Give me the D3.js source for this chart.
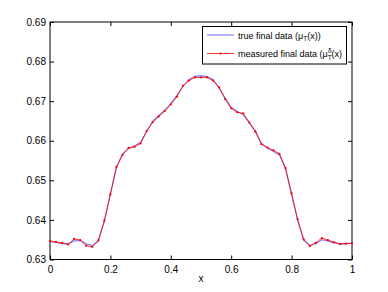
<!DOCTYPE html>
<html><head><meta charset="utf-8">
<script src="https://cdn.jsdelivr.net/npm/d3@7"></script>
<style>body{margin:0;background:#fff}svg{display:block}text{font-family:"Liberation Sans",Arial,sans-serif;fill:#000}</style>
</head><body><svg id="c" width="388" height="292"></svg>
<script>
const xs = d3.range(51).map(i => i / 50);
const measured = [0.6347,0.6344,0.6342,0.6338,0.6352,0.6349,0.6335,0.6332,0.6349,0.6398,
  0.6465,0.6534,0.6564,0.6582,0.6585,0.6593,0.6625,0.6647,0.6661,0.6675,
  0.6692,0.6711,0.6739,0.6752,0.6760,0.6760,0.6760,0.6752,0.6735,0.6705,
  0.6682,0.6672,0.6669,0.6646,0.6623,0.6591,0.6583,0.6576,0.6567,0.6531,
  0.6467,0.6402,0.6351,0.6334,0.6342,0.6354,0.6349,0.6344,0.6339,0.6340,0.6341];
const trueVals = [0.6345,0.6343,0.6340,0.6339,0.6347,0.6348,0.6340,0.6335,0.6346,0.6397,
  0.6466,0.6532,0.6567,0.6580,0.6587,0.6596,0.6623,0.6649,0.6664,0.6677,
  0.6694,0.6714,0.6737,0.6755,0.6763,0.6764,0.6762,0.6754,0.6733,0.6708,
  0.6685,0.6674,0.6666,0.6645,0.6625,0.6594,0.6581,0.6573,0.6564,0.6528,
  0.6463,0.6398,0.6348,0.6336,0.6340,0.6350,0.6347,0.6342,0.6340,0.6340,0.6341];
const xTicks = [0, 0.2, 0.4, 0.6, 0.8, 1];
const yTicks = [0.63, 0.64, 0.65, 0.66, 0.67, 0.68, 0.69];

const L = 50, R = 352, T = 22, B = 259.5;
const svg = d3.select("#c");
const x = d3.scaleLinear().domain([0, 1]).range([L, R]);
const y = d3.scaleLinear().domain([0.63, 0.69]).range([B, T]);

svg.append("rect").attr("x", L).attr("y", T).attr("width", R - L).attr("height", B - T)
  .attr("fill", "none").attr("stroke", "#000").attr("stroke-width", 1);

const fmtX = d => String(d);
const gx = svg.append("g").attr("transform", `translate(0,${B})`)
  .call(d3.axisBottom(x).tickValues(xTicks).tickFormat(fmtX).tickSizeInner(-4).tickSizeOuter(0).tickPadding(6));
const gy = svg.append("g").attr("transform", `translate(${L},0)`)
  .call(d3.axisLeft(y).tickValues(yTicks).tickFormat(d3.format(".2f")).tickSizeInner(-4).tickSizeOuter(0).tickPadding(4));
const gxt = svg.append("g").attr("transform", `translate(0,${T})`)
  .call(d3.axisTop(x).tickValues(xTicks).tickFormat("").tickSizeInner(-4).tickSizeOuter(0));
const gyr = svg.append("g").attr("transform", `translate(${R},0)`)
  .call(d3.axisRight(y).tickValues(yTicks).tickFormat("").tickSizeInner(-4).tickSizeOuter(0));
[gx, gy, gxt, gyr].forEach(g => {
  g.select(".domain").remove();
  g.selectAll("text").attr("font-size", 10).attr("fill", "#000").style("font-family", '"Liberation Sans",Arial,sans-serif');
  g.selectAll("line").attr("stroke", "#000");
});

svg.append("text").attr("x", x(0.5)).attr("y", 282).attr("text-anchor", "middle")
  .attr("font-size", 10).text("x");

const line = d3.line().curve(d3.curveLinear).x((d, i) => x(xs[i])).y(d => y(d));
svg.append("path").datum(trueVals).attr("d", line).attr("fill", "none")
  .attr("stroke", "#4d4dff").attr("stroke-width", 1.1).attr("stroke-opacity", 0.75);
svg.append("path").datum(measured).attr("d", line).attr("fill", "none")
  .attr("stroke", "#ff0000").attr("stroke-width", 0.8);
svg.selectAll("circle.m").data(measured).enter().append("circle").attr("class", "m")
  .attr("cx", (d, i) => x(xs[i])).attr("cy", d => y(d)).attr("r", 1.1).attr("fill", "#ff0000");

// legend
const lg = svg.append("g");
lg.append("rect").attr("x", 202.5).attr("y", 26.5).attr("width", 144).attr("height", 37.5)
  .attr("fill", "#fff").attr("stroke", "#000").attr("stroke-width", 1);
lg.append("line").attr("x1", 207).attr("x2", 234).attr("y1", 35).attr("y2", 35)
  .attr("stroke", "#4d4dff").attr("stroke-width", 1.1).attr("stroke-opacity", 0.75);
lg.append("line").attr("x1", 207).attr("x2", 234).attr("y1", 53.5).attr("y2", 53.5)
  .attr("stroke", "#ff0000").attr("stroke-width", 0.8);
lg.append("circle").attr("cx", 220.5).attr("cy", 53.5).attr("r", 1.1).attr("fill", "#ff0000");

const t1 = lg.append("text").attr("x", 238).attr("y", 38.5).attr("font-size", 9);
t1.append("tspan").text("true final data (μ");
t1.append("tspan").attr("font-size", 6.5).attr("dy", 2).text("T");
t1.append("tspan").attr("dy", -2).text("(x))");

const t2 = lg.append("text").attr("x", 238).attr("y", 57).attr("font-size", 9);
t2.append("tspan").text("measured final data (μ");
t2.append("tspan").attr("font-size", 6.5).attr("dy", 2.5).text("T");
t2.append("tspan").attr("font-size", 6.5).attr("dx", -3.8).attr("dy", -6.5).text("δ");
t2.append("tspan").attr("dy", 4).text("(x)");
</script></body></html>
